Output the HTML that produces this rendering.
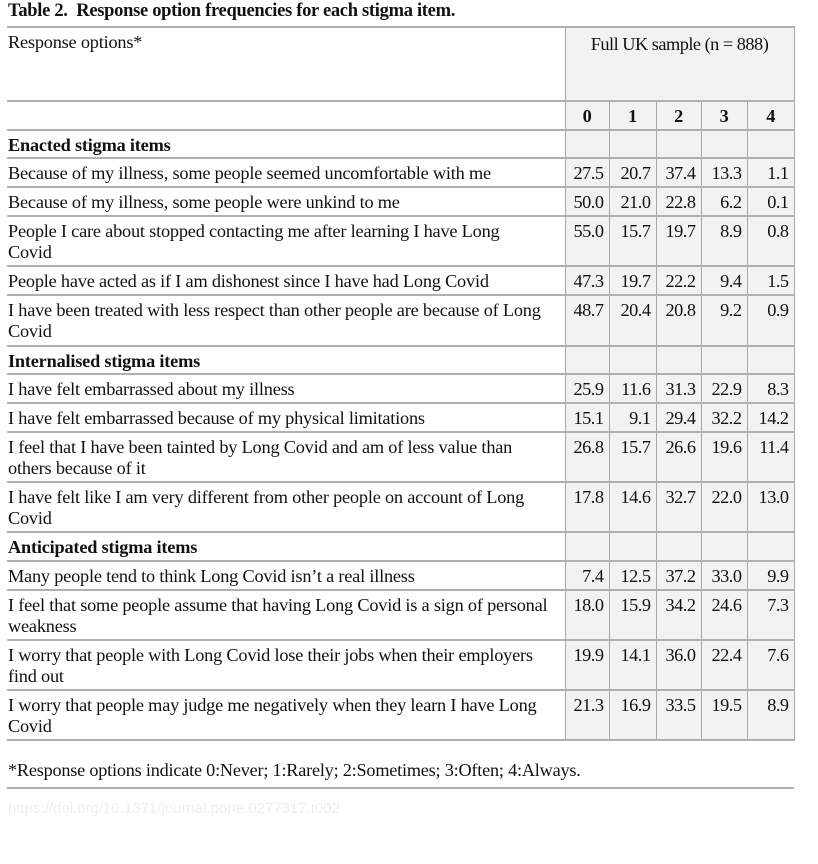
<!DOCTYPE html>
<html><head><meta charset="utf-8"><style>
body{margin:0;width:818px;height:864px;background:#fff;font-family:"Liberation Serif",serif;color:#111;position:relative;overflow:hidden}
.t{position:absolute;left:8px;top:1px;font-weight:bold;font-size:18.5px;letter-spacing:-0.3px}
table{position:absolute;left:7px;top:26px;border-collapse:collapse;table-layout:fixed;width:787px;font-size:18.3px;letter-spacing:-0.2px}
td{border-top:2px solid #b0b0b0;border-bottom:2px solid #b0b0b0;padding:0 4px 0 1px;vertical-align:top;line-height:21px;padding-top:4px}
td.n{background:#f2f2f2;border-left:1.5px solid #a8a8a8;border-right:1.5px solid #a8a8a8;text-align:right;padding-right:5px;padding-left:0;letter-spacing:-0.5px}
td.c{text-align:center;font-weight:bold;padding-right:0}
td.fu{text-align:center;font-weight:normal;padding-right:0;padding-top:6px}
td.h{font-weight:bold}
.foot{position:absolute;left:8px;top:760px;font-size:18.2px;letter-spacing:-0.2px}
.line{position:absolute;left:7px;top:787px;width:787px;height:2px;background:#b0b0b0}
.doi{position:absolute;left:8px;top:800px;font-family:"Liberation Sans",sans-serif;font-size:15px;color:#eee}
</style></head><body>
<div class="t">Table 2.&nbsp; Response option frequencies for each stigma item.</div>
<table>
<colgroup><col style="width:558px"><col style="width:44px"><col style="width:47px"><col style="width:45px"><col style="width:46px"><col style="width:47px"></colgroup>
<tr style="height:74px"><td>Response options*</td><td class="n fu" colspan="5">Full UK sample (n = 888)</td></tr>
<tr style="height:29px"><td></td><td class="n c">0</td><td class="n c">1</td><td class="n c">2</td><td class="n c">3</td><td class="n c">4</td></tr>
<tr style="height:28px"><td class="h">Enacted stigma items</td><td class="n"></td><td class="n"></td><td class="n"></td><td class="n"></td><td class="n"></td></tr>
<tr style="height:29px"><td>Because of my illness, some people seemed uncomfortable with me</td><td class="n">27.5</td><td class="n">20.7</td><td class="n">37.4</td><td class="n">13.3</td><td class="n">1.1</td></tr>
<tr style="height:29px"><td>Because of my illness, some people were unkind to me</td><td class="n">50.0</td><td class="n">21.0</td><td class="n">22.8</td><td class="n">6.2</td><td class="n">0.1</td></tr>
<tr style="height:50px"><td>People I care about stopped contacting me after learning I have Long<br>Covid</td><td class="n">55.0</td><td class="n">15.7</td><td class="n">19.7</td><td class="n">8.9</td><td class="n">0.8</td></tr>
<tr style="height:29px"><td>People have acted as if I am dishonest since I have had Long Covid</td><td class="n">47.3</td><td class="n">19.7</td><td class="n">22.2</td><td class="n">9.4</td><td class="n">1.5</td></tr>
<tr style="height:51px"><td>I have been treated with less respect than other people are because of Long<br>Covid</td><td class="n">48.7</td><td class="n">20.4</td><td class="n">20.8</td><td class="n">9.2</td><td class="n">0.9</td></tr>
<tr style="height:28px"><td class="h">Internalised stigma items</td><td class="n"></td><td class="n"></td><td class="n"></td><td class="n"></td><td class="n"></td></tr>
<tr style="height:29px"><td>I have felt embarrassed about my illness</td><td class="n">25.9</td><td class="n">11.6</td><td class="n">31.3</td><td class="n">22.9</td><td class="n">8.3</td></tr>
<tr style="height:29px"><td>I have felt embarrassed because of my physical limitations</td><td class="n">15.1</td><td class="n">9.1</td><td class="n">29.4</td><td class="n">32.2</td><td class="n">14.2</td></tr>
<tr style="height:50px"><td>I feel that I have been tainted by Long Covid and am of less value than<br>others because of it</td><td class="n">26.8</td><td class="n">15.7</td><td class="n">26.6</td><td class="n">19.6</td><td class="n">11.4</td></tr>
<tr style="height:50px"><td>I have felt like I am very different from other people on account of Long<br>Covid</td><td class="n">17.8</td><td class="n">14.6</td><td class="n">32.7</td><td class="n">22.0</td><td class="n">13.0</td></tr>
<tr style="height:29px"><td class="h">Anticipated stigma items</td><td class="n"></td><td class="n"></td><td class="n"></td><td class="n"></td><td class="n"></td></tr>
<tr style="height:29px"><td>Many people tend to think Long Covid isn’t a real illness</td><td class="n">7.4</td><td class="n">12.5</td><td class="n">37.2</td><td class="n">33.0</td><td class="n">9.9</td></tr>
<tr style="height:50px"><td>I feel that some people assume that having Long Covid is a sign of personal<br>weakness</td><td class="n">18.0</td><td class="n">15.9</td><td class="n">34.2</td><td class="n">24.6</td><td class="n">7.3</td></tr>
<tr style="height:50px"><td>I worry that people with Long Covid lose their jobs when their employers<br>find out</td><td class="n">19.9</td><td class="n">14.1</td><td class="n">36.0</td><td class="n">22.4</td><td class="n">7.6</td></tr>
<tr style="height:50px"><td>I worry that people may judge me negatively when they learn I have Long<br>Covid</td><td class="n">21.3</td><td class="n">16.9</td><td class="n">33.5</td><td class="n">19.5</td><td class="n">8.9</td></tr>
</table>
<div class="foot">*Response options indicate 0:Never; 1:Rarely; 2:Sometimes; 3:Often; 4:Always.</div>
<div class="line"></div>
<div class="doi">https://doi.org/10.1371/journal.pone.0277317.t002</div>
</body></html>
